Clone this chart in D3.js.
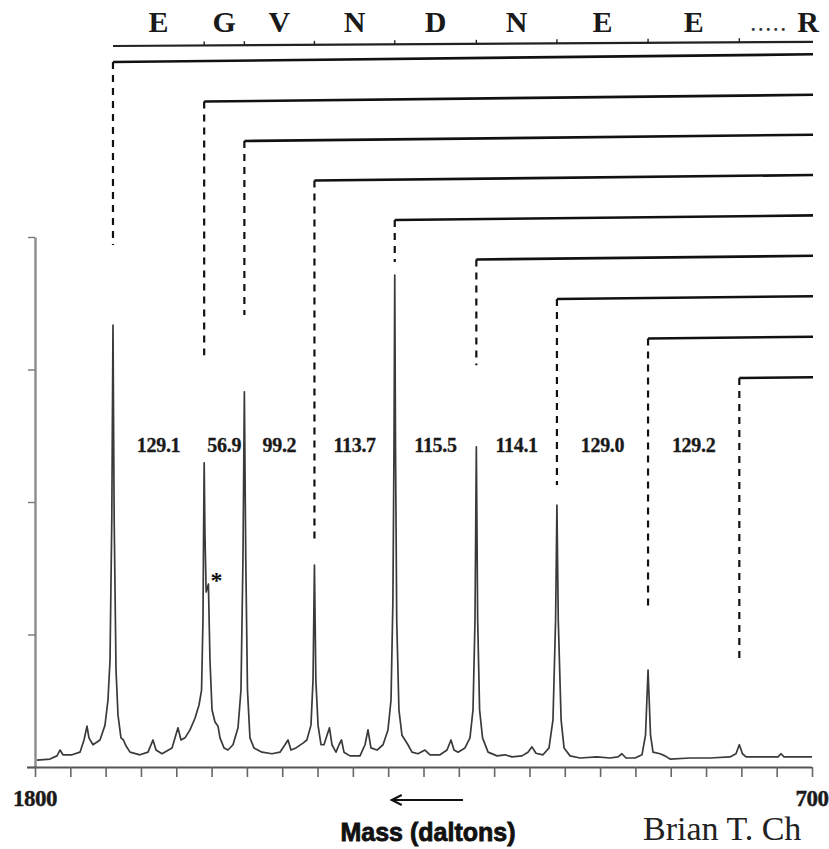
<!DOCTYPE html>
<html>
<head>
<meta charset="utf-8">
<script src="https://cdn.jsdelivr.net/npm/d3@7"></script>
<style>
  html, body { margin: 0; padding: 0; background: #fff; }
  svg { display: block; }
</style>
</head>
<body>
<svg id="chart" width="829" height="849"></svg>
<script>
// Ladder fragment masses (Da), highest to lowest
const peakMass = [1689.6, 1560.5, 1503.6, 1404.4, 1290.7, 1175.2, 1061.1, 932.1, 802.9];
// Residue read between consecutive ladder peaks
const residues = ["E", "G", "V", "N", "D", "N", "E", "E"];
const terminalResidue = "R";
// Relative intensity at which each dashed leader stops above its peak
const leaderEnd = [98.5, 77.7, 85.3, 42.8, 95.3, 75.8, 53.2, 29.6, 20.2];
// Satellite peak flagged with an asterisk
const starMass = 1554.5;
const starIntensity = 34.5;

// Axis ticks
const massTicks = d3.range(700, 1801, 50);
const massTickLabels = [1800, 700];
const intensityTicks = [0, 25, 50, 75, 100];

// Spectrum trace: mass (Da) and relative intensity
const traceMass = [
  1797.2, 1778.8, 1768.9, 1764.6, 1760.4, 1747.6, 1736.3, 1730.6, 1726.4, 1723.6,
  1717.9, 1708.0, 1700.9, 1696.7, 1693.8, 1691.3, 1689.6, 1687.9, 1685.3, 1682.5,
  1678.3, 1674.8, 1671.2, 1665.5, 1651.4, 1640.0, 1633.0, 1628.7, 1620.2, 1606.0,
  1597.6, 1593.3, 1587.6, 1580.6, 1573.5, 1567.8, 1564.2, 1562.2, 1561.3, 1560.5,
  1559.4, 1557.7, 1554.5, 1552.3, 1549.4, 1545.2, 1540.9, 1538.1, 1532.4, 1526.8,
  1519.7, 1512.6, 1508.4, 1505.6, 1503.6, 1501.6, 1499.2, 1495.7, 1490.0, 1478.6,
  1464.5, 1453.2, 1446.1, 1441.8, 1437.6, 1430.5, 1420.6, 1415.1, 1409.3, 1406.4,
  1404.4, 1402.4, 1399.3, 1395.1, 1390.9, 1386.6, 1383.1, 1379.6, 1373.9, 1369.6,
  1366.1, 1362.6, 1354.1, 1339.9, 1332.8, 1328.6, 1324.4, 1315.8, 1307.3, 1300.3,
  1296.0, 1293.3, 1291.8, 1290.7, 1289.6, 1287.9, 1284.8, 1280.5, 1276.2, 1272.0,
  1266.3, 1257.8, 1247.9, 1240.8, 1226.6, 1216.7, 1211.1, 1206.8, 1201.1, 1191.3,
  1184.2, 1179.9, 1177.1, 1175.2, 1173.3, 1170.6, 1166.4, 1158.6, 1145.9, 1134.6,
  1124.7, 1110.6, 1102.1, 1096.4, 1090.8, 1080.8, 1072.3, 1066.7, 1063.0, 1061.1,
  1059.2, 1055.2, 1051.0, 1042.5, 1028.4, 1004.4, 986.0, 974.7, 969.1, 963.4,
  950.6, 940.7, 935.7, 932.1, 928.6, 925.1, 915.2, 908.1, 901.0, 872.7,
  844.4, 816.1, 807.6, 802.9, 798.4, 793.4, 773.6, 748.1, 743.9, 739.6,
  717.0, 700.0
];
const traceIntensity = [
  1.3, 1.5, 2.1, 3.2, 2.3, 2.3, 2.8, 5.1, 7.7, 5.5,
  4.2, 5.1, 7.9, 12.6, 20.2, 46.6, 83.4, 46.6, 18.3, 9.8,
  5.5, 5.1, 4.0, 2.8, 2.3, 2.8, 5.1, 3.2, 2.5, 3.6,
  7.4, 5.1, 5.5, 7.0, 9.2, 11.7, 14.5, 27.7, 44.7, 57.4,
  44.0, 33.0, 34.5, 20.2, 10.8, 8.5, 7.7, 5.5, 3.6, 3.2,
  4.2, 7.4, 14.5, 39.1, 70.8, 39.1, 14.5, 5.5, 3.6, 2.8,
  2.5, 2.8, 4.2, 5.1, 3.2, 3.6, 4.5, 5.1, 7.9, 16.4,
  38.1, 16.4, 7.9, 4.2, 4.2, 6.0, 7.4, 4.2, 2.8, 4.2,
  5.1, 2.8, 2.1, 2.1, 4.2, 7.0, 3.6, 3.2, 4.2, 7.0,
  12.6, 31.5, 59.8, 92.8, 59.8, 27.7, 10.8, 6.0, 5.1, 4.2,
  2.8, 2.5, 3.2, 2.3, 2.3, 3.2, 5.1, 3.2, 2.8, 3.6,
  5.5, 10.8, 27.7, 60.4, 27.7, 10.8, 5.5, 2.8, 2.1, 2.3,
  1.9, 2.1, 2.8, 3.8, 2.6, 2.3, 3.6, 8.9, 27.7, 49.4,
  27.7, 8.9, 3.6, 2.1, 1.7, 1.9, 1.7, 1.9, 2.5, 1.7,
  1.7, 2.3, 6.0, 18.3, 6.0, 2.8, 2.5, 2.1, 1.5, 1.7,
  1.7, 1.9, 2.5, 4.2, 2.5, 1.9, 1.9, 1.9, 2.5, 1.9,
  1.9, 1.9
];

const svg = d3.select("#chart");
svg.append("rect").attr("width", 829).attr("height", 849).attr("fill", "#fff");

const x = d3.scaleLinear().domain([1800, 700]).range([35, 812]);
const y = d3.scaleLinear().domain([0, 100]).range([767, 237]);
// vertical levels of the nested ladder brackets
const bracketY = d3.scalePoint().domain(d3.range(peakMass.length)).range([62, 378]);
const rightEdge = 813;
const tilt = 0.011;

const serif = "'Liberation Serif', 'Times New Roman', serif";
const sans = "'Liberation Sans', Arial, sans-serif";

// ---- y axis (unlabelled intensity) ----
const yAxis = svg.append("g")
  .attr("transform", `translate(${x(1800)},0)`)
  .call(d3.axisLeft(y).tickValues(intensityTicks).tickSize(7).tickSizeOuter(0).tickFormat(""));
yAxis.select(".domain").attr("stroke", "#8a8a8a").attr("stroke-width", 2.4);
yAxis.selectAll(".tick line").attr("stroke", "#777").attr("stroke-width", 1.4);

// ---- x axis ----
const xAxis = svg.append("g")
  .attr("transform", `translate(0,${y(0)})`)
  .call(d3.axisBottom(x).tickValues(massTicks).tickSize(10).tickSizeOuter(0).tickFormat(""));
xAxis.select(".domain").attr("stroke", "#555").attr("stroke-width", 2)
  .attr("d", `M${x(1800) - 8},0.5H${x(700)}`);
xAxis.selectAll(".tick line").attr("stroke", "#666").attr("stroke-width", 1.6);

svg.selectAll("text.masslabel")
  .data(massTickLabels)
  .join("text")
  .attr("class", "masslabel")
  .attr("x", d => x(d))
  .attr("y", 806)
  .attr("text-anchor", "middle")
  .attr("font-family", serif)
  .attr("font-weight", "bold")
  .attr("font-size", 23)
  .attr("letter-spacing", -0.5)
  .attr("fill", "#1a1a1a")
  .attr("stroke", "#1a1a1a").attr("stroke-width", 0.4)
  .text(d => d);

// direction-of-reading arrow under the axis
const arrowY = 800;
const arrowFrom = 1295, arrowTo = 1194;
svg.append("path")
  .attr("d", `M${x(arrowFrom)},${arrowY}H${x(arrowTo)}`)
  .attr("stroke", "#111").attr("stroke-width", 2).attr("fill", "none");
svg.append("path")
  .attr("d", `M${x(arrowFrom) + 10},${arrowY - 5}L${x(arrowFrom)},${arrowY}L${x(arrowFrom) + 10},${arrowY + 5}`)
  .attr("stroke", "#111").attr("stroke-width", 2).attr("fill", "none");

svg.append("text")
  .attr("x", 428).attr("y", 841)
  .attr("text-anchor", "middle")
  .attr("font-family", sans)
  .attr("font-weight", "bold")
  .attr("font-size", 25)
  .attr("fill", "#111")
  .attr("stroke", "#111").attr("stroke-width", 0.8)
  .text("Mass (daltons)");

// ---- spectrum trace ----
const trace = traceMass.map((m, i) => [m, traceIntensity[i]]);
svg.append("path")
  .datum(trace)
  .attr("fill", "none")
  .attr("stroke", "#3a3a3a")
  .attr("stroke-width", 1.7)
  .attr("stroke-linejoin", "round")
  .attr("d", d3.line().x(d => x(d[0])).y(d => y(d[1])));

svg.append("text")
  .attr("x", x(starMass) + 8).attr("y", y(starIntensity) + 4)
  .attr("text-anchor", "middle")
  .attr("font-family", serif).attr("font-weight", "bold")
  .attr("font-size", 24).attr("fill", "#111")
  .text("*");

// ---- ladder brackets ----
const brackets = svg.append("g");
peakMass.forEach((m, i) => {
  const px = x(m);
  const by = bracketY(i);
  brackets.append("path")
    .attr("d", `M${px},${by}L${rightEdge},${by - tilt * (rightEdge - px)}`)
    .attr("stroke", "#111").attr("stroke-width", 2.6).attr("fill", "none");
  brackets.append("path")
    .attr("d", `M${px},${by}V${y(leaderEnd[i])}`)
    .attr("stroke", "#111").attr("stroke-width", 2.2)
    .attr("stroke-dasharray", "7,6").attr("fill", "none");
});

// ---- sequence ruler ----
const rulerY0 = 46;
const rulerTilt = 0.006;
const rulerAt = px => rulerY0 - rulerTilt * (px - x(peakMass[0]));
svg.append("path")
  .attr("d", `M${x(peakMass[0])},${rulerY0}L${rightEdge},${rulerAt(rightEdge)}`)
  .attr("stroke", "#222").attr("stroke-width", 2.2).attr("fill", "none");
svg.selectAll("path.rtick")
  .data(peakMass.slice(1))
  .join("path")
  .attr("class", "rtick")
  .attr("d", m => `M${x(m)},${rulerAt(x(m))}v-4`)
  .attr("stroke", "#222").attr("stroke-width", 1.4);

svg.selectAll("text.residue")
  .data(residues)
  .join("text")
  .attr("class", "residue")
  .attr("x", (r, i) => (x(peakMass[i]) + x(peakMass[i + 1])) / 2)
  .attr("y", 32)
  .attr("text-anchor", "middle")
  .attr("font-family", serif).attr("font-weight", "bold")
  .attr("font-size", 30).attr("fill", "#1a1a1a")
  .text(r => r);

svg.append("text")
  .attr("x", (x(peakMass[peakMass.length - 1]) + x(700)) / 2 - 6)
  .attr("y", 31)
  .attr("text-anchor", "middle")
  .attr("font-family", serif).attr("font-weight", "bold")
  .attr("font-size", 18).attr("letter-spacing", 3).attr("fill", "#333")
  .text(".....");
svg.append("text")
  .attr("x", x(700) - 4)
  .attr("y", 32)
  .attr("text-anchor", "middle")
  .attr("font-family", serif).attr("font-weight", "bold")
  .attr("font-size", 30).attr("fill", "#1a1a1a")
  .text(terminalResidue);

// ---- mass differences between neighbouring ladder peaks ----
const diffs = d3.pairs(peakMass).map(([a, b]) => ({ mid: (x(a) + x(b)) / 2, d: a - b }));
svg.selectAll("text.diff")
  .data(diffs)
  .join("text")
  .attr("class", "diff")
  .attr("x", d => d.mid)
  .attr("y", 452)
  .attr("text-anchor", "middle")
  .attr("font-family", serif).attr("font-weight", "bold")
  .attr("font-size", 20).attr("letter-spacing", -0.3).attr("fill", "#1a1a1a")
  .attr("stroke", "#1a1a1a").attr("stroke-width", 0.3)
  .text(d => d3.format(".1f")(d.d));

// ---- author credit ----
svg.append("text")
  .attr("x", 643).attr("y", 840)
  .attr("font-family", serif)
  .attr("font-size", 34).attr("fill", "#222")
  .text("Brian T. Ch");
</script>
</body>
</html>
